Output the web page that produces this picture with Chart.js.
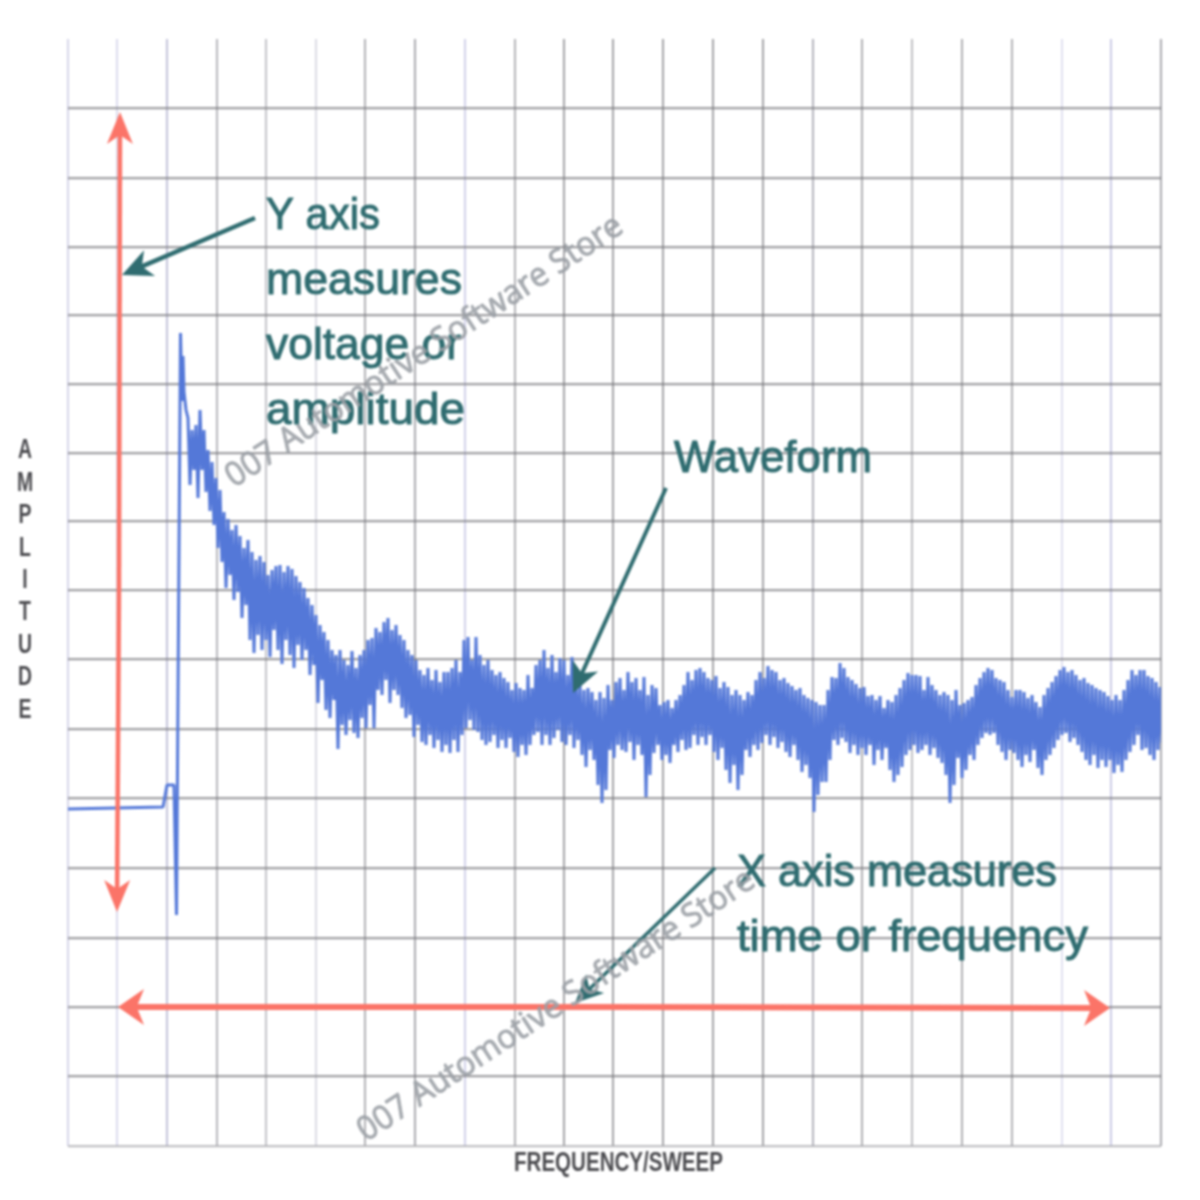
<!DOCTYPE html>
<html>
<head>
<meta charset="utf-8">
<title>Waveform</title>
<script src="https://cdn.jsdelivr.net/npm/chart.js@4"></script>
<style>
  html, body { margin: 0; padding: 0; background: #fff; }
  #grafico { display: block; filter: blur(0.8px); }
</style>
</head>
<body>
<canvas id="grafico" width="1200" height="1200"></canvas>
<script>
// Grid divisions (no printed tick labels)
const gridX = [0,49,99,149,198,248,297,347,397,447,496,545,595,645,695,745,794,844,894,944,994,1043,1093];
const gridY = [0,70,139,208,278,348,417,487,556,625,693,762,831,899,968,1038];
const axisMaxX = 1093;
const axisMaxY = 1107;

// Trace before the sweep starts: flat line, small step, spike down, spike up
const leadX = [0,95,99,106,108.5,112.5,114,115];
const leadY = [337,339,361,361,231,813,745,790];

// Noisy part of the trace: first sample and spacing, then peaks and troughs
const waveStartX = 116;
const waveStepX = 4;
const wavePeaks = [
  754,728,716,721,736,716,696,684,668,656,
  634,627,616,621,610,598,606,594,586,590,
  584,571,576,580,581,574,580,577,570,564,
  558,548,541,531,521,514,506,496,491,496,
  486,481,495,478,491,496,506,508,518,514,
  524,528,516,521,511,506,496,491,486,476,
  471,478,466,476,464,474,474,478,486,474,
  506,509,486,509,491,481,486,476,471,474,
  468,464,456,463,458,456,471,458,481,486,
  496,478,491,474,488,486,471,489,466,461,
  456,458,454,446,454,448,461,446,464,468,
  456,474,464,468,456,469,451,461,458,441,
  444,446,438,446,451,461,474,466,476,478,
  474,468,466,470,458,464,459,451,456,451,
  446,454,451,466,474,468,480,476,474,466,
  468,463,460,456,458,451,448,446,444,441,
  441,456,469,468,483,478,469,466,462,458,
  459,450,451,446,450,438,446,444,451,458,
  466,473,471,471,470,456,469,461,456,451,
  454,451,446,456,441,443,446,449,461,468,
  474,478,476,468,466,464,456,449,456,456,
  454,448,451,444,439,451,458,464,470,476,
  479,474,476,471,466,468,463,461,458,456,
  454,450,446,451,446,456,466,476,471,476,
  476,470,468,464,459
];
const waveTroughs = [
  736,661,676,648,676,654,635,621,598,584,
  558,571,546,554,528,541,506,493,511,496,
  506,489,516,496,482,506,491,478,501,486,
  496,471,481,443,466,436,428,446,397,421,
  411,426,413,408,428,418,441,418,456,451,
  466,443,456,451,438,428,431,409,421,404,
  401,411,398,406,394,401,393,406,394,411,
  418,426,416,414,406,401,404,411,398,406,
  398,408,394,389,401,391,401,411,414,401,
  411,401,408,416,404,401,411,398,406,391,
  379,396,386,361,343,356,396,388,401,396,
  394,404,386,401,391,349,371,393,401,386,
  391,383,401,394,406,396,398,411,401,409,
  401,411,394,386,398,376,363,381,356,371,
  396,389,401,396,403,411,401,409,398,404,
  394,389,401,386,374,381,368,334,351,364,
  364,386,406,401,408,404,393,401,391,398,
  391,401,381,396,386,398,376,364,371,379,
  391,396,401,393,396,401,391,398,388,383,
  371,343,361,388,368,376,391,386,401,408,
  413,411,413,401,394,386,396,393,386,379,
  391,384,396,378,371,386,391,398,406,411,
  413,404,408,401,394,386,381,391,378,386,
  379,386,373,381,374,386,394,401,411,396,
  398,391,386,396,403
];

// Text on the chart
const yCallout = ['Y axis', 'measures', 'voltage or', 'amplitude'];
const waveCallout = ['Waveform'];
const xCallout = ['X axis measures', 'time or frequency'];
const yTitle = ['A','M','P','L','I','T','U','D','E'];
const xTitle = 'FREQUENCY/SWEEP';
const marca = '007 Automotive Software Store';

// Cores
const colorTrace = '#5478d8';
const colorRed = '#fb7468';
const colorTeal = '#2f6c70';
const colorLabel = '#4c4c50';
const colorMark = 'rgba(155,160,166,0.85)';
const vLineColors = [
  '#d6d6ea','#dcdcee','#c4c4da','#b8b8bc','#c4c4c8','#dcdce4','#b2b2b6','#acacb0',
  '#d2d2ea','#b4b4b8','#a4a4a8','#a4a4a8','#a4a4a8','#a4a4a8','#a4a4a8','#b4b4bc',
  '#b0b0b4','#c0c0c4','#b0b0b4','#b4b4b8','#e0e0f0','#ccccE6','#acacb0','#bcbcc8'
];

const wavePoints = [];
leadX.forEach((x, i) => wavePoints.push({ x: x, y: leadY[i] }));
wavePeaks.forEach((peak, i) => {
  const x = waveStartX + i * waveStepX;
  wavePoints.push({ x: x, y: peak });
  wavePoints.push({ x: x + waveStepX / 2, y: waveTroughs[i] });
});

// Arrow with a notched head, in axis units
function drawArrow(chart, x1, y1, x2, y2, color, width, headLen, headWide) {
  const ctx = chart.ctx;
  const ax = chart.scales.x.getPixelForValue(x1);
  const ay = chart.scales.y.getPixelForValue(y1);
  const bx = chart.scales.x.getPixelForValue(x2);
  const by = chart.scales.y.getPixelForValue(y2);
  const ang = Math.atan2(by - ay, bx - ax);
  ctx.save();
  ctx.strokeStyle = color;
  ctx.fillStyle = color;
  ctx.lineWidth = width;
  ctx.beginPath();
  ctx.moveTo(ax, ay);
  ctx.lineTo(bx - Math.cos(ang) * headLen * 0.6, by - Math.sin(ang) * headLen * 0.6);
  ctx.stroke();
  ctx.translate(bx, by);
  ctx.rotate(ang);
  ctx.beginPath();
  ctx.moveTo(0, 0);
  ctx.lineTo(-headLen, -headWide);
  ctx.lineTo(-headLen * 0.72, 0);
  ctx.lineTo(-headLen, headWide);
  ctx.closePath();
  ctx.fill();
  ctx.restore();
}

// Text squeezed to the width it has in the picture
function drawFit(ctx, txt, x, y, wide, heavy) {
  const ratio = wide / ctx.measureText(txt).width;
  ctx.save();
  ctx.translate(x, y);
  ctx.scale(ratio, 1);
  ctx.fillText(txt, 0, 0);
  if (heavy) {
    ctx.lineWidth = heavy;
    ctx.strokeStyle = ctx.fillStyle;
    ctx.strokeText(txt, 0, 0);
  }
  ctx.restore();
}

const anotacoes = {
  id: 'anotacoes',
  afterDatasetsDraw(chart) {
    const ctx = chart.ctx;

    // Red axis arrows, head on both ends
    drawArrow(chart, 51, 560, 49, 234, colorRed, 4.5, 32, 13);
    drawArrow(chart, 51, 560, 52, 1034, colorRed, 4.5, 32, 13);
    drawArrow(chart, 550, 139, 50, 139, colorRed, 6, 26, 18);
    drawArrow(chart, 550, 139, 1042, 138, colorRed, 6, 26, 18);

    // Callout arrows
    drawArrow(chart, 187, 928, 54, 871, colorTeal, 4.5, 30, 14);
    drawArrow(chart, 598, 658, 505, 453, colorTeal, 4, 30, 14);
    drawArrow(chart, 647, 278, 507, 143, colorTeal, 3.5, 28, 13);

    ctx.save();
    ctx.fillStyle = colorTeal;
    ctx.textAlign = 'left';
    ctx.textBaseline = 'alphabetic';
    ctx.font = '44px "Liberation Sans", Arial, sans-serif';
    drawFit(ctx, yCallout[0], 266, 229, 114, 1);
    drawFit(ctx, yCallout[1], 266, 294, 196, 1);
    drawFit(ctx, yCallout[2], 266, 359, 195, 1);
    drawFit(ctx, yCallout[3], 266, 424, 199, 1);
    drawFit(ctx, waveCallout[0], 674, 472, 198, 1);
    drawFit(ctx, xCallout[0], 737, 886, 320, 1);
    drawFit(ctx, xCallout[1], 737, 951, 351, 1);

    // Stacked y title
    ctx.fillStyle = colorLabel;
    ctx.textBaseline = 'middle';
    ctx.font = 'bold 27px "Liberation Sans", sans-serif';
    yTitle.forEach((letter, i) => {
      const wide = ctx.measureText(letter).width * 0.72;
      drawFit(ctx, letter, 25 - wide / 2, 451 + i * 32.4, wide);
    });

    // x title, same narrow letters
    ctx.font = 'bold 27px "Liberation Sans", sans-serif';
    drawFit(ctx, xTitle, 514, 1164, 209);

    // Marca d'agua, twice
    ctx.fillStyle = colorMark;
    ctx.textBaseline = 'alphabetic';
    ctx.font = '33px "Open Sans", "Liberation Sans", sans-serif';
    [[234, 488], [366, 1142]].forEach(p => {
      ctx.save();
      ctx.translate(p[0], p[1]);
      ctx.rotate(-33.3 * Math.PI / 180);
      drawFit(ctx, marca, 0, 0, 468, 1);
      ctx.restore();
    });
    ctx.restore();
  }
};

new Chart(document.getElementById('grafico').getContext('2d'), {
  type: 'line',
  data: {
    datasets: [{
      label: 'Waveform',
      data: wavePoints,
      borderColor: colorTrace,
      borderWidth: 3,
      borderJoinStyle: 'bevel',
      pointRadius: 0,
      tension: 0,
      fill: false
    }]
  },
  options: {
    responsive: false,
    animation: false,
    layout: { padding: { left: 68, right: 39, top: 39, bottom: 0 } },
    plugins: { legend: { display: false }, tooltip: { enabled: false } },
    scales: {
      x: {
        type: 'linear',
        min: 0,
        max: axisMaxX,
        afterBuildTicks: axis => { axis.ticks = gridX.map(v => ({ value: v })); },
        afterFit: axis => { axis.height = 54; },
        ticks: { display: false },
        border: { display: false },
        grid: {
          drawTicks: false,
          lineWidth: 2,
          color: c => vLineColors[c.index] || '#b0b0b4'
        }
      },
      y: {
        type: 'linear',
        min: 0,
        max: axisMaxY,
        afterBuildTicks: axis => { axis.ticks = gridY.map(v => ({ value: v })); },
        afterFit: axis => { axis.width = 0; },
        ticks: { display: false },
        border: { display: false },
        grid: {
          drawTicks: false,
          lineWidth: 2.2,
          color: c => c.index === 0 ? 'rgba(165,165,170,0.7)' : 'rgba(115,115,120,0.68)'
        }
      }
    }
  },
  plugins: [anotacoes]
});
</script>
</body>
</html>
